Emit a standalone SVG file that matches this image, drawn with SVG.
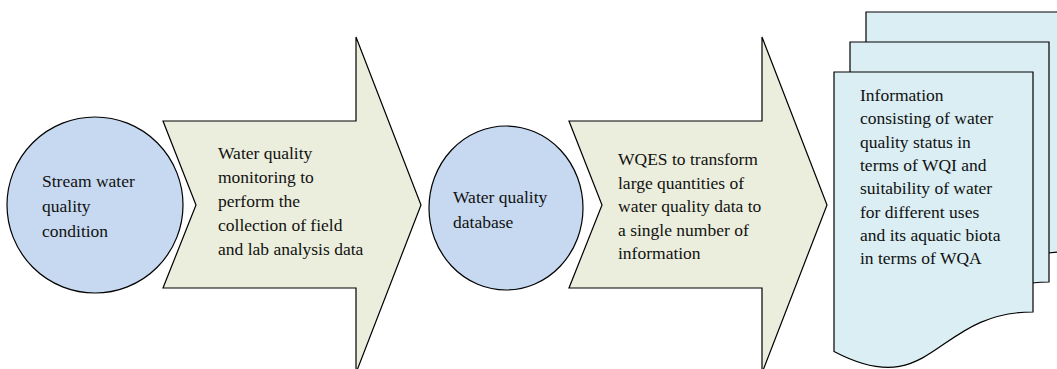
<svg xmlns="http://www.w3.org/2000/svg" width="1057" height="369" viewBox="0 0 1057 369">
  <style>
    .circle { fill: #C6D9F0; stroke: #000; stroke-width: 1.2; }
    .arrow { fill: #EBEEDC; stroke: #000; stroke-width: 1.2; stroke-linejoin: miter; }
    .doc { fill: #DAEEF3; stroke: #000; stroke-width: 1.2; }
    .label { font-size: 17.5px; fill: #111; }
  </style>

  <rect width="1057" height="369" fill="#fff"/>

  <!-- Source: stream water quality -->
  <g id="stream-condition">
    <circle class="circle" cx="95" cy="205" r="88"/>
    <text class="label" font-family="Liberation Serif, Times New Roman, DejaVu Serif, serif">
      <tspan x="42" y="187.3">Stream water</tspan>
      <tspan x="42" y="212.3">quality</tspan>
      <tspan x="42" y="237.3">condition</tspan>
    </text>
  </g>

  <!-- Step arrow: monitoring -->
  <g id="monitoring">
    <polygon class="arrow" points="163,121 356,121 356,37 421,205 356,373 356,288 163,288 196,205"/>
    <text class="label" font-family="Liberation Serif, Times New Roman, DejaVu Serif, serif">
      <tspan x="218" y="158.5">Water quality</tspan>
      <tspan x="218" y="182.6">monitoring to</tspan>
      <tspan x="218" y="206.8">perform the</tspan>
      <tspan x="218" y="230.9">collection of field</tspan>
      <tspan x="218" y="255">and lab analysis data</tspan>
    </text>
  </g>

  <!-- Intermediate store: database -->
  <g id="database">
    <ellipse class="circle" cx="506" cy="208" rx="77" ry="82"/>
    <text class="label" font-family="Liberation Serif, Times New Roman, DejaVu Serif, serif">
      <tspan x="453" y="203">Water quality</tspan>
      <tspan x="453" y="228">database</tspan>
    </text>
  </g>

  <!-- Step arrow: WQES transformation -->
  <g id="wqes">
    <polygon class="arrow" points="569,121 762,121 762,37 827,205 762,373 762,288 569,288 602,205"/>
    <text class="label" font-family="Liberation Serif, Times New Roman, DejaVu Serif, serif">
      <tspan x="618" y="165">WQES to transform</tspan>
      <tspan x="618" y="188.5">large quantities of</tspan>
      <tspan x="618" y="212">water quality data to</tspan>
      <tspan x="618" y="235.5">a single number of</tspan>
      <tspan x="618" y="259">information</tspan>
    </text>
  </g>

  <!-- Output: stacked documents -->
  <g id="information-output">
    <path class="doc" d="M866,12 H1065 V252 C965.5,252 965.5,343.5 866,291.5 Z"/>
    <path class="doc" d="M850,42 H1049 V282 C949.5,282 949.5,373.5 850,321.5 Z"/>
    <path class="doc" d="M834,72 H1033 V312 C933.5,312 933.5,403.5 834,351.5 Z"/>
    <text class="label" font-family="Liberation Serif, Times New Roman, DejaVu Serif, serif">
      <tspan x="860" y="101">Information</tspan>
      <tspan x="860" y="124.3">consisting of water</tspan>
      <tspan x="860" y="147.6">quality status in</tspan>
      <tspan x="860" y="170.9">terms of WQI and</tspan>
      <tspan x="860" y="194.2">suitability of water</tspan>
      <tspan x="860" y="217.5">for different uses</tspan>
      <tspan x="860" y="240.8">and its aquatic biota</tspan>
      <tspan x="860" y="264.1">in terms of WQA</tspan>
    </text>
  </g>
</svg>
